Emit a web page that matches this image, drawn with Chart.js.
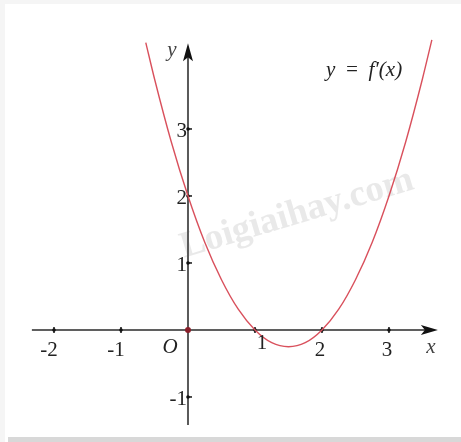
<!DOCTYPE html>
<html>
<head>
<meta charset="utf-8">
<script src="https://cdn.jsdelivr.net/npm/chart.js@4.4.1/dist/chart.umd.min.js"></script>
<style>
  html, body { margin: 0; padding: 0; background: #fff; }
  #wrap { position: relative; width: 461px; height: 442px; }
  canvas { display: block; }
</style>
</head>
<body>
<div id="wrap"><canvas id="c" width="461" height="442"></canvas></div>
<script>
// values
const xs = [-0.63, -0.5, -0.25, 0, 0.25, 0.5, 0.75, 1, 1.25, 1.5, 1.75, 2, 2.25, 2.5, 2.75, 3, 3.25, 3.5, 3.64];
const ys = [4.29, 3.75, 2.81, 2, 1.31, 0.75, 0.31, 0, -0.19, -0.25, -0.19, 0, 0.31, 0.75, 1.31, 2, 2.81, 3.75, 4.33];

const xTicks = [-2, -1, 1, 2, 3];
const xTickLabels = ['-2', '-1', '1', '2', '3'];
const yTicks = [-1, 1, 2, 3];
const yTickLabels = ['-1', '1', '2', '3'];

const xAxisFrom = -2.33, xAxisTo = 3.73;
const yAxisFrom = -1.42, yAxisTo = 4.28;
const curveLabel = "y \u2009=\u2009 f\u2032(x)";

const SERIF = '"Liberation Serif", "DejaVu Serif", serif';

const axesPlugin = {
  id: 'axes',
  beforeDraw(chart) {
    const ctx = chart.ctx;
    ctx.save();
    ctx.fillStyle = '#fff';
    ctx.fillRect(0, 0, chart.width, chart.height);
    // soft frame of the picture
    ctx.fillStyle = '#f5f5f5';
    ctx.fillRect(0, 0, chart.width, 4);
    ctx.fillRect(0, 0, 5, chart.height);
    ctx.fillStyle = '#d8d8d8';
    ctx.fillRect(8, chart.height - 5, chart.width - 8, 5);
    // watermark
    ctx.translate(297, 214);
    ctx.rotate(-0.29);
    ctx.font = 'bold 37px ' + SERIF;
    ctx.fillStyle = 'rgba(212,212,212,0.5)';
    ctx.textAlign = 'center';
    ctx.textBaseline = 'middle';
    ctx.fillText('Loigiaihay.com', 0, 0);
    ctx.restore();
  },
  beforeDatasetsDraw(chart) {
    const ctx = chart.ctx;
    const sx = chart.scales.x, sy = chart.scales.y;
    const ox = sx.getPixelForValue(0), oy = sy.getPixelForValue(0);
    ctx.save();
    // x axis
    ctx.strokeStyle = '#2a2a2a';
    ctx.lineWidth = 1.6;
    ctx.beginPath();
    ctx.moveTo(sx.getPixelForValue(xAxisFrom), oy);
    ctx.lineTo(sx.getPixelForValue(xAxisTo) - 10, oy);
    ctx.stroke();
    const xt = sx.getPixelForValue(xAxisTo);
    ctx.fillStyle = '#111';
    ctx.beginPath();
    ctx.moveTo(xt, oy);
    ctx.lineTo(xt - 17, oy - 5);
    ctx.lineTo(xt - 13, oy);
    ctx.lineTo(xt - 17, oy + 5);
    ctx.closePath();
    ctx.fill();
    // y axis
    ctx.strokeStyle = '#5a5a5a';
    ctx.lineWidth = 2;
    ctx.beginPath();
    ctx.moveTo(ox, sy.getPixelForValue(yAxisFrom));
    ctx.lineTo(ox, sy.getPixelForValue(yAxisTo) + 10);
    ctx.stroke();
    const yt = sy.getPixelForValue(yAxisTo);
    ctx.fillStyle = '#111';
    ctx.beginPath();
    ctx.moveTo(ox, yt);
    ctx.lineTo(ox - 5, yt + 18);
    ctx.lineTo(ox, yt + 14);
    ctx.lineTo(ox + 5, yt + 18);
    ctx.closePath();
    ctx.fill();
    // tick marks
    ctx.strokeStyle = '#111';
    ctx.lineWidth = 1.5;
    xTicks.forEach(v => {
      const px = sx.getPixelForValue(v);
      ctx.beginPath();
      ctx.moveTo(px, oy - 3);
      ctx.lineTo(px, oy + 3);
      ctx.stroke();
      ctx.beginPath();
      ctx.arc(px, oy, 1.8, 0, Math.PI * 2);
      ctx.fill();
    });
    yTicks.forEach(v => {
      const py = sy.getPixelForValue(v);
      ctx.beginPath();
      ctx.moveTo(ox - 1, py);
      ctx.lineTo(ox + 4, py);
      ctx.stroke();
      ctx.beginPath();
      ctx.arc(ox, py, 1.8, 0, Math.PI * 2);
      ctx.fill();
    });
    ctx.restore();
  },
  afterDatasetsDraw(chart) {
    const ctx = chart.ctx;
    const sx = chart.scales.x, sy = chart.scales.y;
    const ox = sx.getPixelForValue(0), oy = sy.getPixelForValue(0);
    ctx.save();
    // origin dot
    ctx.fillStyle = '#8a1f2a';
    ctx.beginPath();
    ctx.arc(ox, oy, 3, 0, Math.PI * 2);
    ctx.fill();
    ctx.fillStyle = '#222';
    ctx.textBaseline = 'middle';
    ctx.textAlign = 'center';
    ctx.font = '21px ' + SERIF;
    xTicks.forEach((v, i) => {
      const px = sx.getPixelForValue(v);
      const dx = v < 0 ? -5 : (v === 1 ? 7 : -2);
      const dy = v === 1 ? 14 : 21;
      ctx.fillText(xTickLabels[i], px + dx, oy + dy);
    });
    ctx.textAlign = 'right';
    yTicks.forEach((v, i) => {
      const py = sy.getPixelForValue(v);
      ctx.fillText(yTickLabels[i], ox - 1, py + 3);
    });
    ctx.font = 'italic 21px ' + SERIF;
    ctx.textAlign = 'center';
    ctx.fillText('O', ox - 18, oy + 18);
    ctx.fillStyle = '#444';
    ctx.fillText('x', sx.getPixelForValue(xAxisTo) - 7, oy + 18);
    ctx.fillText('y', ox - 16, sy.getPixelForValue(yAxisTo) + 7);
    ctx.fillStyle = '#222';
    ctx.font = 'italic 21px ' + SERIF;
    ctx.textAlign = 'left';
    ctx.fillText(curveLabel, 326, 70);
    ctx.restore();
  }
};

new Chart(document.getElementById('c'), {
  type: 'scatter',
  data: {
    datasets: [{
      data: xs.map((x, i) => ({ x, y: ys[i] })),
      showLine: true,
      borderColor: '#d9505c',
      borderWidth: 1.4,
      pointRadius: 0,
      cubicInterpolationMode: 'monotone',
      clip: false
    }]
  },
  options: {
    responsive: false,
    animation: false,
    devicePixelRatio: 1,
    layout: { padding: 0 },
    plugins: { legend: { display: false }, tooltip: { enabled: false } },
    scales: {
      x: { type: 'linear', display: false, min: -2.806, max: 4.075 },
      y: { type: 'linear', display: false, min: -1.672, max: 4.925 }
    }
  },
  plugins: [axesPlugin]
});
</script>
</body>
</html>
